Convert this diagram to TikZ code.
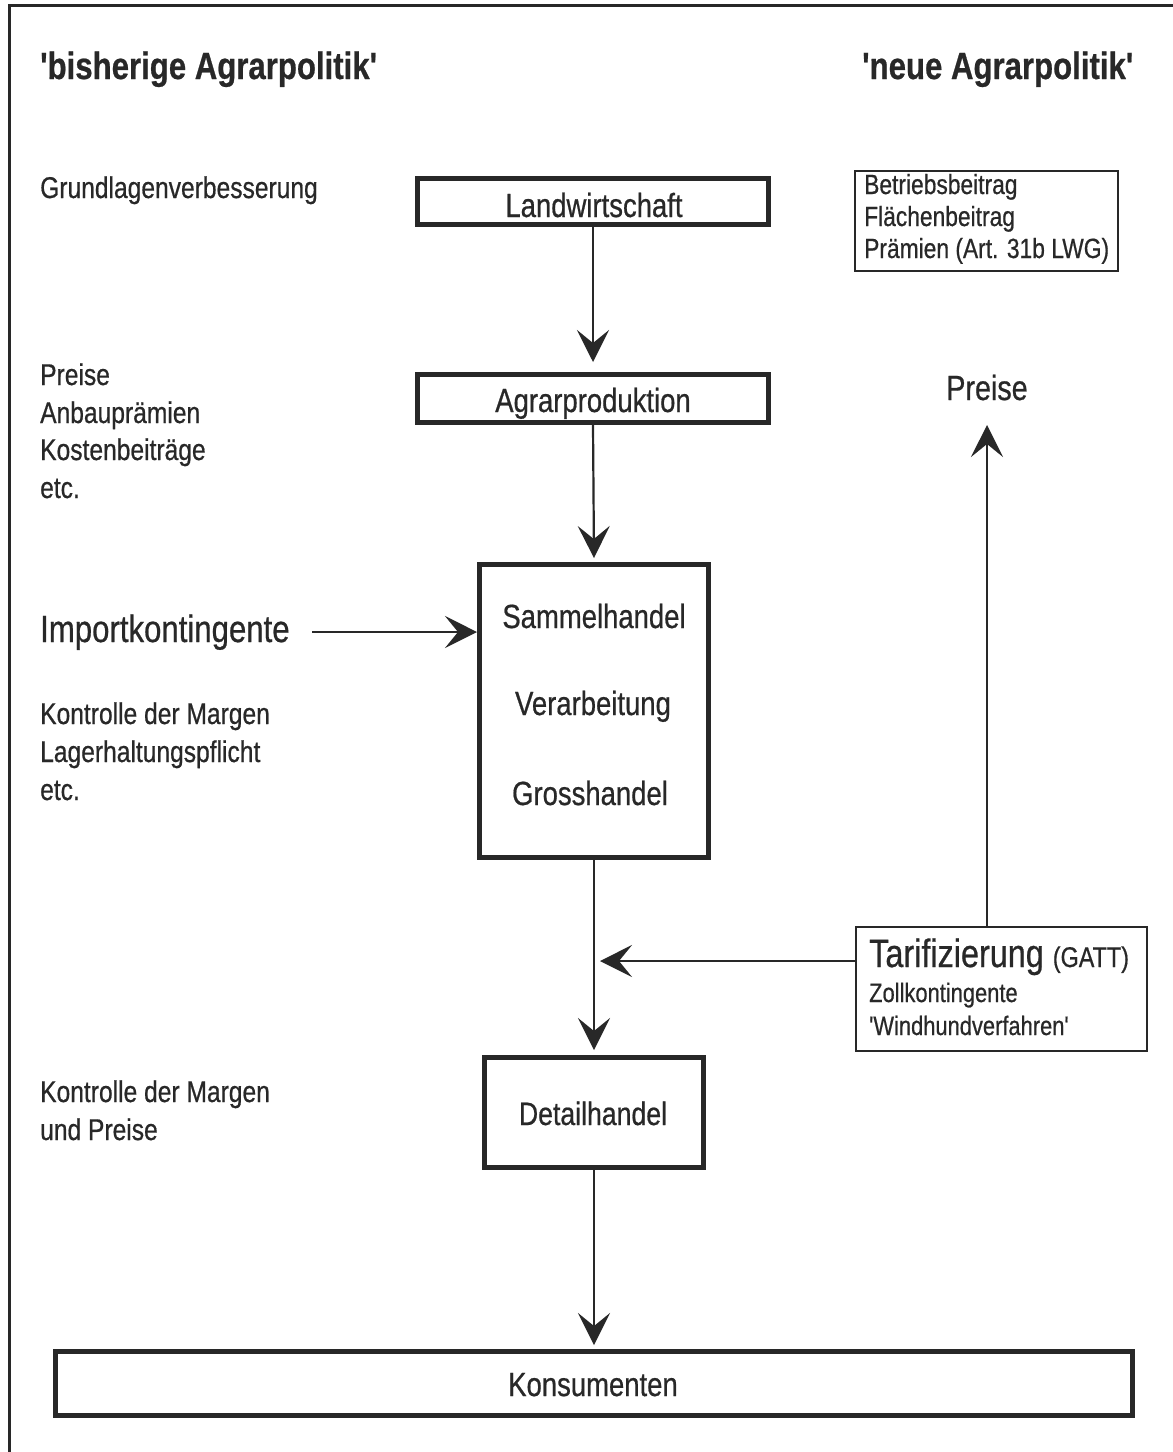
\documentclass[tikz,border=0pt]{standalone}
\usepackage{fontspec}
\setmainfont{Liberation Sans}[FakeStretch=0.82, FakeBold=0.6, Ligatures=TeXOff]
\usetikzlibrary{arrows.meta}
\definecolor{ink}{RGB}{40,40,40}
\newcommand\fsz[1]{\fontsize{#1}{#1}\selectfont}
\begin{document}
\begin{tikzpicture}[x=1pt,y=-1pt,
  thickbox/.style={draw=ink, line width=5pt, inner sep=0pt},
  thinbox/.style={draw=ink, line width=2pt, inner sep=0pt},
  arr/.style={draw=ink, line width=2.2pt, -{Stealth[length=32pt,width=32pt,inset=13pt]}},
  lbl/.style={anchor=base west, inner sep=0pt, text=ink, font=\fsz{30}},
  boxlbl/.style={anchor=base, inner sep=0pt, text=ink, font=\fsz{33.5}},
  smalllbl/.style={anchor=base west, inner sep=0pt, text=ink, font=\fsz{26.7}},
  title/.style={anchor=base west, inner sep=0pt, text=ink, font=\fsz{38}\bfseries}]
\useasboundingbox (0,0) rectangle (1173,1452);
\fill[white] (0,0) rectangle (1173,1452);
% outer frame (only top and left edges visible)
\draw[ink, line width=3pt] (1173,5.5) -- (9,5.5) -- (9,1452);

% titles
\node[title] (t1) at (40,79) {'bisherige Agrarpolitik'};
\node[title] (t2) at (862,79) {'neue Agrarpolitik'};

% left labels
\node[lbl] (grund) at (40,198) {Grundlagenverbesserung};
\node[lbl] (l1a) at (40,385) {Preise};
\node[lbl] (l1b) at (40,423) {Anbauprämien};
\node[lbl] (l1c) at (40,460) {Kostenbeiträge};
\node[lbl] (l1d) at (40,498) {etc.};
\node[lbl, font=\fsz{38}] (imp) at (40,642) {Importkontingente};
\node[lbl] (l2a) at (40,724) {Kontrolle der Margen};
\node[lbl] (l2b) at (40,762) {Lagerhaltungspflicht};
\node[lbl] (l2c) at (40,800) {etc.};
\node[lbl] (l3a) at (40,1102) {Kontrolle der Margen};
\node[lbl] (l3b) at (40,1140) {und Preise};

% central chain boxes
\node[thickbox, minimum width=351pt, minimum height=46pt] (land) at (593,201.5) {};
\node[boxlbl] (landt) at (594,217) {Landwirtschaft};
\node[thickbox, minimum width=351pt, minimum height=48pt] (agrar) at (593,398.5) {};
\node[boxlbl] (agrart) at (593,412) {Agrarproduktion};
\node[thickbox, minimum width=229pt, minimum height=293pt] (handel) at (594,711) {};
\node[boxlbl] (h1) at (594,628) {Sammelhandel};
\node[boxlbl] (h2) at (593,715) {Verarbeitung};
\node[boxlbl] (h3) at (590,805) {Grosshandel};
\node[thickbox, minimum width=219pt, minimum height=110pt] (detail) at (594,1112.5) {};
\node[boxlbl, font=\fsz{32.5}] (detailt) at (593,1125) {Detailhandel};
\node[thickbox, minimum width=1077pt, minimum height=64pt] (konsum) at (594,1383.5) {};
\node[boxlbl] (konsumt) at (593,1396) {Konsumenten};

% right side
\node[thinbox, minimum width=263pt, minimum height=100pt] (betrieb) at (986.5,221) {};
\node[smalllbl, font=\fsz{27.8}] (b1) at (864,194) {Betriebsbeitrag};
\node[smalllbl, font=\fsz{27.8}] (b2) at (864,226) {Flächenbeitrag};
\node[smalllbl, font=\fsz{27.8}] (b3) at (864,258) {Prämien (Art. 31b LWG)};
\node[anchor=base, inner sep=0pt, text=ink, font=\fsz{35}] (preise) at (987,400) {Preise};
\node[thinbox, minimum width=291pt, minimum height=124pt] (tarif) at (1001.5,989) {};
\node[smalllbl, font=\fsz{39.5}] (tar1) at (869,967) {Tarifizierung {\fsz{28.5}(GATT)}};
\node[smalllbl] (tar2) at (869,1002) {Zollkontingente};
\node[smalllbl] (tar3) at (869,1035) {'Windhundverfahren'};

% connectors
\coordinate (impstart) at (312,632);
\coordinate (tarifin) at (600,961);
\coordinate (preisetip) at (987,425);
\draw[arr] (land.south) -- ([yshift=10pt]agrar.north);
\draw[arr] (agrar.south) -- ([yshift=4pt]handel.north);
\draw[arr] (impstart) -- (handel.west |- impstart);
\draw[arr] (handel.south) -- ([yshift=5pt]detail.north);
\draw[arr] (detail.south) -- ([yshift=4pt]konsum.north);
\draw[arr] (tarif.west |- tarifin) -- (tarifin);
\draw[arr] (tarif.north -| preisetip) -- (preisetip);
\end{tikzpicture}
\end{document}
